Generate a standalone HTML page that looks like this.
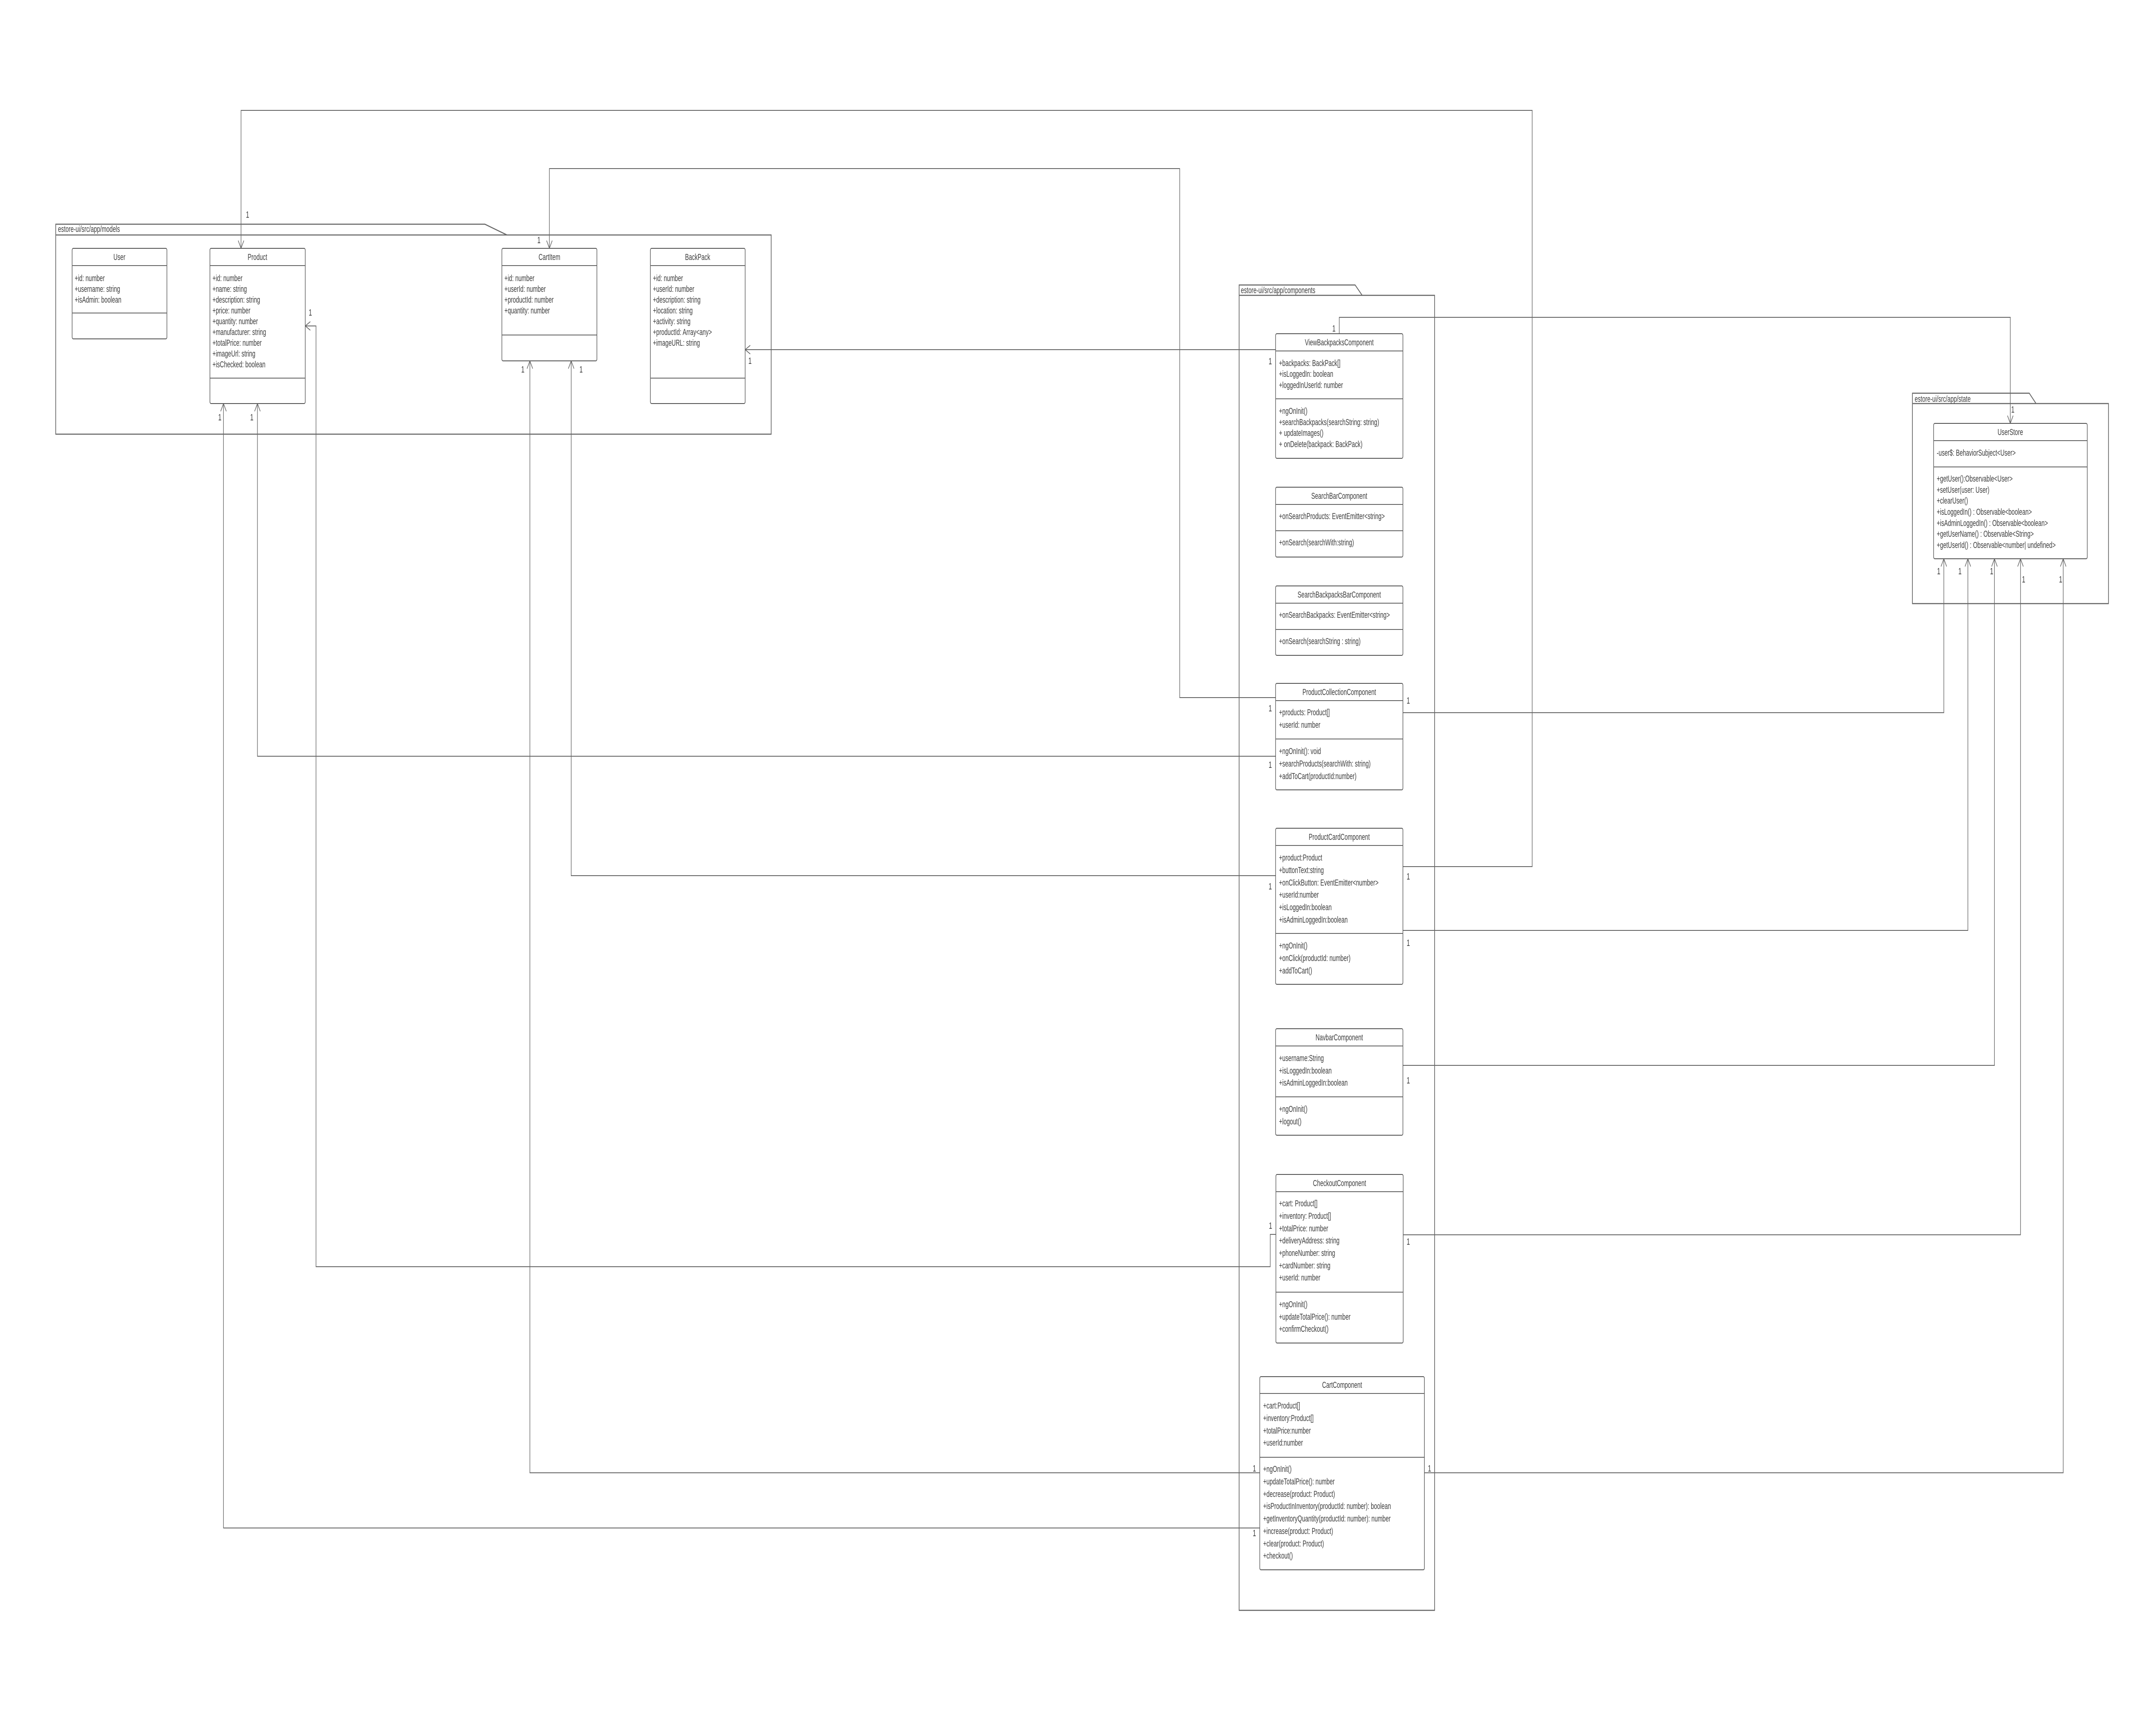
<!DOCTYPE html>
<html><head><meta charset="utf-8">
<meta name="viewport" content="width=device-width, initial-scale=1">
<style>
html,body{margin:0;padding:0;background:#fff;width:100%;height:100%;overflow:hidden;}
svg{display:block;width:100vw;height:100vh;}
text{font-family:"Liberation Sans",Arial,sans-serif;fill:#3a3a3a;font-size:20px;}
.t{text-anchor:middle;}
.n{text-anchor:middle;font-size:21px;}
.box{fill:#fff;stroke:#555;stroke-width:2;}
.dv{stroke:#666;stroke-width:2;}
.ln{fill:none;stroke:#666;stroke-width:2;}
.pk{fill:none;stroke:#666;stroke-width:2.5;}
</style></head>
<body>
<svg viewBox="0 0 7621 3994" preserveAspectRatio="none" xmlns="http://www.w3.org/2000/svg">
<rect width="7621" height="3994" fill="#fff"/>
<path class="pk" d="M197,545 V520 H1714 L1792,545 H2726 V1007 H197 Z M197,545 H1792"/>
<text x="205" y="538">estore-ui/src/app/models</text>
<path class="pk" d="M4380,685 V661 H4790 L4815,685 H5071 V3735 H4380 Z M4380,685 H4815"/>
<text x="4386" y="680">estore-ui/src/app/components</text>
<path class="pk" d="M6760,936 V912 H7173 L7197,936 H7453 V1400 H6760 Z M6760,936 H7197"/>
<text x="6768" y="932">estore-ui/src/app/state</text>

<path class="ln" d="M852,576 V256 H5416 V2010 H4959"/>
<path class="ln" d="M1942,576 V391 H4170 V1618 H4509"/>
<path class="ln" d="M4734,774 V736 H7106 V982"/>
<path class="ln" d="M2634,811 H4509"/>
<path class="ln" d="M910,936 V1754 H4509"/>
<path class="ln" d="M2019,837 V2031 H4509"/>
<path class="ln" d="M1079,756 H1117 V2938 H4490 V2863 H4510"/>
<path class="ln" d="M1873,837 V3416 H4453"/>
<path class="ln" d="M790,936 V3544 H4453"/>
<path class="ln" d="M5035,3416 H7293 V1296"/>
<path class="ln" d="M4960,2864 H7142 V1296"/>
<path class="ln" d="M4959,2471 H7050 V1296"/>
<path class="ln" d="M4959,2158 H6956 V1296"/>
<path class="ln" d="M4959,1653 H6871 V1296"/>
<path class="ln" d="M842,558 L852,576 L862,558"/>
<path class="ln" d="M1932,558 L1942,576 L1952,558"/>
<path class="ln" d="M7096,964 L7106,982 L7116,964"/>
<path class="ln" d="M2652,801 L2634,811 L2652,821"/>
<path class="ln" d="M1097,746 L1079,756 L1097,766"/>
<path class="ln" d="M900,954 L910,936 L920,954"/>
<path class="ln" d="M780,954 L790,936 L800,954"/>
<path class="ln" d="M2009,855 L2019,837 L2029,855"/>
<path class="ln" d="M1863,855 L1873,837 L1883,855"/>
<path class="ln" d="M7283,1314 L7293,1296 L7303,1314"/>
<path class="ln" d="M7132,1314 L7142,1296 L7152,1314"/>
<path class="ln" d="M7040,1314 L7050,1296 L7060,1314"/>
<path class="ln" d="M6946,1314 L6956,1296 L6966,1314"/>
<path class="ln" d="M6861,1314 L6871,1296 L6881,1314"/>

<g>
<text class="n" x="875" y="505">1</text>
<text class="n" x="1905" y="564">1</text>
<text class="n" x="4715" y="769">1</text>
<text class="n" x="7115" y="957">1</text>
<text class="n" x="4490" y="845">1</text>
<text class="n" x="2651" y="844">1</text>
<text class="n" x="4490" y="1650">1</text>
<text class="n" x="4490" y="1781">1</text>
<text class="n" x="890" y="975">1</text>
<text class="n" x="4490" y="2063">1</text>
<text class="n" x="2054" y="864">1</text>
<text class="n" x="1097" y="732">1</text>
<text class="n" x="4491" y="2850">1</text>
<text class="n" x="1848" y="864">1</text>
<text class="n" x="4434" y="3413">1</text>
<text class="n" x="777" y="975">1</text>
<text class="n" x="4434" y="3563">1</text>
<text class="n" x="5053" y="3413">1</text>
<text class="n" x="7284" y="1351">1</text>
<text class="n" x="4978" y="2887">1</text>
<text class="n" x="7153" y="1351">1</text>
<text class="n" x="4978" y="2513">1</text>
<text class="n" x="7040" y="1332">1</text>
<text class="n" x="4978" y="2194">1</text>
<text class="n" x="6928" y="1332">1</text>
<text class="n" x="4978" y="1632">1</text>
<text class="n" x="6853" y="1332">1</text>
<text class="n" x="4978" y="2040">1</text>
</g>

<rect class="box" x="255" y="576" width="335" height="210" rx="4"/>
<path class="dv" d="M255,616 H590 M255,726 H590"/>
<text class="t" x="422" y="603">User</text>
<text x="264" y="652">+id: number</text>
<text x="264" y="677">+username: string</text>
<text x="264" y="702">+isAdmin: boolean</text>

<rect class="box" x="742" y="576" width="337" height="360" rx="4"/>
<path class="dv" d="M742,616 H1079 M742,877 H1079"/>
<text class="t" x="910" y="603">Product</text>
<text x="751" y="652">+id: number</text>
<text x="751" y="677">+name: string</text>
<text x="751" y="702">+description: string</text>
<text x="751" y="727">+price: number</text>
<text x="751" y="752">+quantity: number</text>
<text x="751" y="777">+manufacturer: string</text>
<text x="751" y="802">+totalPrice: number</text>
<text x="751" y="827">+imageUrl: string</text>
<text x="751" y="852">+isChecked: boolean</text>

<rect class="box" x="1774" y="576" width="336" height="261" rx="4"/>
<path class="dv" d="M1774,616 H2110 M1774,777 H2110"/>
<text class="t" x="1942" y="603">CartItem</text>
<text x="1783" y="652">+id: number</text>
<text x="1783" y="677">+userId: number</text>
<text x="1783" y="702">+productId: number</text>
<text x="1783" y="727">+quantity: number</text>

<rect class="box" x="2299" y="576" width="335" height="360" rx="4"/>
<path class="dv" d="M2299,616 H2634 M2299,877 H2634"/>
<text class="t" x="2466" y="603">BackPack</text>
<text x="2308" y="652">+id: number</text>
<text x="2308" y="677">+userId: number</text>
<text x="2308" y="702">+description: string</text>
<text x="2308" y="727">+location: string</text>
<text x="2308" y="752">+activity: string</text>
<text x="2308" y="777">+productId: Array&lt;any&gt;</text>
<text x="2308" y="802">+imageURL: string</text>

<rect class="box" x="4509" y="774" width="450" height="289" rx="4"/>
<path class="dv" d="M4509,814 H4959 M4509,925 H4959"/>
<text class="t" x="4734" y="801">ViewBackpacksComponent</text>
<text x="4521" y="849">+backpacks: BackPack[]</text>
<text x="4521" y="874">+isLoggedIn: boolean</text>
<text x="4521" y="900">+loggedInUserId: number</text>
<text x="4521" y="960">+ngOnInit()</text>
<text x="4521" y="986">+searchBackpacks(searchString: string)</text>
<text x="4521" y="1011">+ updateImages()</text>
<text x="4521" y="1037">+ onDelete(backpack: BackPack)</text>

<rect class="box" x="4509" y="1130" width="450" height="162" rx="4"/>
<path class="dv" d="M4509,1170 H4959 M4509,1231 H4959"/>
<text class="t" x="4734" y="1157">SearchBarComponent</text>
<text x="4521" y="1204">+onSearchProducts: EventEmitter&lt;string&gt;</text>
<text x="4521" y="1265">+onSearch(searchWith:string)</text>

<rect class="box" x="4509" y="1359" width="450" height="161" rx="4"/>
<path class="dv" d="M4509,1399 H4959 M4509,1460 H4959"/>
<text class="t" x="4734" y="1386">SearchBackpacksBarComponent</text>
<text x="4521" y="1433">+onSearchBackpacks: EventEmitter&lt;string&gt;</text>
<text x="4521" y="1494">+onSearch(searchString : string)</text>

<rect class="box" x="4509" y="1585" width="450" height="247" rx="4"/>
<path class="dv" d="M4509,1625 H4959 M4509,1714 H4959"/>
<text class="t" x="4734" y="1612">ProductCollectionComponent</text>
<text x="4521" y="1659">+products: Product[]</text>
<text x="4521" y="1688">+userId: number</text>
<text x="4521" y="1749">+ngOnInit(): void</text>
<text x="4521" y="1778">+searchProducts(searchWith: string)</text>
<text x="4521" y="1807">+addToCart(productId:number)</text>

<rect class="box" x="4509" y="1921" width="450" height="362" rx="4"/>
<path class="dv" d="M4509,1961 H4959 M4509,2165 H4959"/>
<text class="t" x="4734" y="1948">ProductCardComponent</text>
<text x="4521" y="1996">+product:Product</text>
<text x="4521" y="2025">+buttonText:string</text>
<text x="4521" y="2054">+onClickButton: EventEmitter&lt;number&gt;</text>
<text x="4521" y="2082">+userId:number</text>
<text x="4521" y="2111">+isLoggedIn:boolean</text>
<text x="4521" y="2140">+isAdminLoggedIn:boolean</text>
<text x="4521" y="2200">+ngOnInit()</text>
<text x="4521" y="2229">+onClick(productId: number)</text>
<text x="4521" y="2258">+addToCart()</text>

<rect class="box" x="4509" y="2386" width="450" height="247" rx="4"/>
<path class="dv" d="M4509,2426 H4959 M4509,2544 H4959"/>
<text class="t" x="4734" y="2413">NavbarComponent</text>
<text x="4521" y="2461">+username:String</text>
<text x="4521" y="2490">+isLoggedIn:boolean</text>
<text x="4521" y="2518">+isAdminLoggedIn:boolean</text>
<text x="4521" y="2579">+ngOnInit()</text>
<text x="4521" y="2608">+logout()</text>

<rect class="box" x="4510" y="2724" width="450" height="391" rx="4"/>
<path class="dv" d="M4510,2764 H4960 M4510,2997 H4960"/>
<text class="t" x="4735" y="2751">CheckoutComponent</text>
<text x="4521" y="2798">+cart: Product[]</text>
<text x="4521" y="2827">+inventory: Product[]</text>
<text x="4521" y="2856">+totalPrice: number</text>
<text x="4521" y="2884">+deliveryAddress: string</text>
<text x="4521" y="2913">+phoneNumber: string</text>
<text x="4521" y="2942">+cardNumber: string</text>
<text x="4521" y="2970">+userId: number</text>
<text x="4521" y="3032">+ngOnInit()</text>
<text x="4521" y="3061">+updateTotalPrice(): number</text>
<text x="4521" y="3089">+confirmCheckout()</text>

<rect class="box" x="4453" y="3193" width="582" height="448" rx="4"/>
<path class="dv" d="M4453,3232 H5035 M4453,3380 H5035"/>
<text class="t" x="4744" y="3219">CartComponent</text>
<text x="4465" y="3267">+cart:Product[]</text>
<text x="4465" y="3296">+inventory:Product[]</text>
<text x="4465" y="3325">+totalPrice:number</text>
<text x="4465" y="3353">+userId:number</text>
<text x="4465" y="3414">+ngOnInit()</text>
<text x="4465" y="3443">+updateTotalPrice(): number</text>
<text x="4465" y="3472">+decrease(product: Product)</text>
<text x="4465" y="3500">+isProductInInventory(productId: number): boolean</text>
<text x="4465" y="3529">+getInventoryQuantity(productId: number): number</text>
<text x="4465" y="3558">+increase(product: Product)</text>
<text x="4465" y="3587">+clear(product: Product)</text>
<text x="4465" y="3615">+checkout()</text>

<rect class="box" x="6835" y="982" width="543" height="314" rx="4"/>
<path class="dv" d="M6835,1022 H7378 M6835,1083 H7378"/>
<text class="t" x="7106" y="1009">UserStore</text>
<text x="6846" y="1057">-user$: BehaviorSubject&lt;User&gt;</text>
<text x="6846" y="1117">+getUser():Observable&lt;User&gt;</text>
<text x="6846" y="1143">+setUser(user: User)</text>
<text x="6846" y="1168">+clearUser()</text>
<text x="6846" y="1194">+isLoggedIn() : Observable&lt;boolean&gt;</text>
<text x="6846" y="1220">+isAdminLoggedIn() : Observable&lt;boolean&gt;</text>
<text x="6846" y="1245">+getUserName() : Observable&lt;String&gt;</text>
<text x="6846" y="1271">+getUserId() : Observable&lt;number| undefined&gt;</text>
</svg>
</body></html>
